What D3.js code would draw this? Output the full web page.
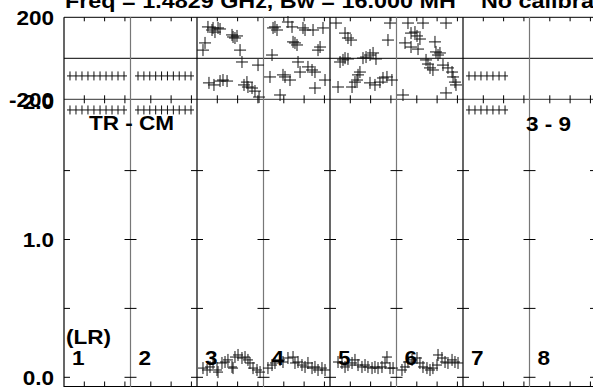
<!DOCTYPE html>
<html><head><meta charset="utf-8">
<script src="https://cdn.jsdelivr.net/npm/d3@7"></script>
<style>
html,body{margin:0;padding:0;background:#fff;}
svg{display:block;}
text{font-family:"Liberation Sans",Arial,Helvetica,sans-serif;font-weight:bold;fill:#000;}
</style></head>
<body>
<script>
// ---------- data ----------
const titleLeft = "Freq = 1.4829 GHz, Bw = 16.000 MH";
const titleRight = "No calibra";
const panelLabels = ["1","2","3","4","5","6","7","8"];
const phaseTickLabels = [200, -200];
const ampTickLabels = [2.0, 1.0, 0.0];
const ampMinorTicks = [0, 0.5, 1.0, 1.5];
const timeTicks = [20, 40, 60];

// phase [time(min), degrees] per panel
const phase3 = [[5.9,40],[7.9,75],[10.8,153],[11.8,-120],[14.8,138],[15.8,148],[16.7,-130],[17.7,128],[20.7,148],[22.7,143],[22.7,-111],[25.6,-106],[29.6,-111],[34.5,114],[35.5,104],[37.4,99],[39.4,109],[42.4,40],[44.3,-18],[46.3,-130],[49.2,-116],[50.2,-140],[54.2,-145],[57.1,-160],[60.1,-33],[61.1,-189]];
const phase4 = [[6.4,-91],[8.4,16],[9.4,148],[11.3,153],[13.3,138],[16.3,-179],[19.2,-81],[21.2,-91],[24.1,177],[26.1,-106],[28.1,153],[29.1,80],[31.0,75],[33.0,65],[34.0,-18],[36.0,-67],[38.9,148],[40.9,138],[43.8,-42],[47.8,-57],[48.8,138],[50.7,-67],[50.7,-145],[53.7,40],[55.7,55],[58.6,148],[60.6,-106]];
const phase5 = [[5.9,172],[7.9,-140],[9.9,-18],[12.8,-8],[14.8,123],[14.8,1],[17.7,99],[17.7,-3],[20.7,89],[21.7,-140],[24.6,-116],[26.6,-106],[27.6,-81],[29.5,-67],[32.5,1],[35.5,6],[39.4,16],[39.4,-120],[42.4,26],[44.3,-130],[45.3,-3],[49.2,-116],[52.2,-96],[56.1,-91],[57.1,89],[59.1,172],[61.0,-106]];
const phase6 = [[6.4,-179],[8.4,75],[11.3,172],[14.3,123],[14.3,55],[18.2,128],[20.2,109],[21.2,45],[23.1,94],[26.1,172],[29.1,-8],[31.0,-28],[33.0,-47],[35.9,-57],[37.9,80],[38.9,31],[40.9,16],[42.8,26],[45.8,-33],[48.8,-169],[48.8,172],[50.7,-47],[54.7,-67],[55.7,-91],[57.6,-116],[58.6,-130]];

// amplitude [time(min), amp] per panel
const amp3 = [[5.9,0.067],[9.9,0.053],[12.8,0.075],[15.8,0.104],[19.7,0.053],[20.7,0.038],[24.6,0.104],[27.6,0.111],[30.5,0.126],[34.5,0.075],[35.5,0.067],[37.4,0.147],[40.4,0.162],[44.3,0.140],[47.3,0.147],[50.2,0.126],[52.2,0.104],[55.2,0.067],[59.1,0.053],[62.1,0.038]];
const amp4 = [[4.4,0.067],[8.4,0.089],[11.3,0.104],[16.3,0.126],[19.2,0.111],[24.1,0.140],[29.1,0.147],[31.0,0.104],[34.0,0.111],[37.9,0.089],[40.9,0.075],[43.8,0.104],[47.8,0.067],[50.7,0.075],[53.7,0.053],[57.6,0.067],[60.6,0.053]];
const amp5 = [[7.9,0.111],[11.8,0.104],[14.8,0.075],[17.7,0.089],[21.7,0.104],[24.6,0.126],[27.6,0.089],[31.5,0.075],[34.5,0.089],[37.4,0.075],[41.4,0.067],[44.3,0.075],[47.3,0.067],[51.2,0.075],[54.2,0.104],[56.1,0.147],[59.1,0.067],[62.1,0.067]];
const amp6 = [[5.4,0.053],[8.4,0.075],[11.3,0.111],[15.3,0.126],[20.2,0.140],[23.1,0.104],[26.1,0.075],[30.0,0.067],[33.0,0.053],[35.9,0.067],[39.9,0.089],[40.9,0.162],[44.8,0.140],[47.8,0.111],[50.7,0.104],[54.7,0.126],[57.6,0.111],[60.6,0.104]];

// flagged (constant) samples in panels 1, 2, 7
const flagTimes1 = [5.9,11.8,17.7,23.6,29.5,35.5,41.4,47.3,53.2,59.1];
const flagTimes2 = [7.4,13.2,19.0,24.8,30.6,36.4,42.2,48.0,53.8,59.6];
const flagTimes7 = [5.9,11.8,17.7,23.6,29.5,35.5,41.4];
const flagPhase = -86;
const flagAmp = 1.94;

// ---------- layout ----------
const W = 593, H = 387;
const svg = d3.select("body").append("svg").attr("width", W).attr("height", H);

const nPanels = 8;
const panelX = d3.scaleLinear().domain([0, nPanels]).range([64, 596]);
const pw = panelX(1) - panelX(0);
const tX = d3.scaleLinear().domain([0, 65.5]).range([0, pw]);
const phY = d3.scaleLinear().domain([-200, 200]).range([99.3, 17.3]);
const amY = d3.scaleLinear().domain([0, 1]).range([377.3, 239.5]);
const ampBottom = 386.5;

const g = svg.append("g");

// horizontal frame lines
[200, 0, -200].forEach(v => {
  g.append("line").attr("x1", panelX(0)).attr("x2", panelX(nPanels))
    .attr("y1", phY(v)).attr("y2", phY(v))
    .attr("stroke", v === -200 ? "#333" : "#000").attr("stroke-width", 1);
});
g.append("line").attr("x1", panelX(0)).attr("x2", panelX(nPanels))
  .attr("y1", ampBottom).attr("y2", ampBottom).attr("stroke", "#000");

// vertical panel lines
d3.range(nPanels + 1).forEach(i => {
  g.append("line").attr("x1", panelX(i)).attr("x2", panelX(i))
    .attr("y1", phY(200)).attr("y2", H)
    .attr("stroke", i % 2 === 0 ? "#000" : "#777").attr("stroke-width", 1.2);
});

// time ticks
d3.range(nPanels).forEach(i => {
  timeTicks.forEach(t => {
    const x = panelX(i) + tX(t);
    g.append("line").attr("x1", x).attr("x2", x).attr("y1", phY(200)).attr("y2", phY(200) + 4).attr("stroke", "#000");
    g.append("line").attr("x1", x).attr("x2", x).attr("y1", phY(-200) - 4).attr("y2", phY(-200) + 4).attr("stroke", "#000");
    g.append("line").attr("x1", x).attr("x2", x).attr("y1", ampBottom - 5).attr("y2", ampBottom).attr("stroke", "#000");
  });
});

// amplitude ticks on panel lines
d3.range(nPanels + 1).forEach(i => {
  ampMinorTicks.forEach(a => {
    const x = panelX(i);
    g.append("line").attr("x1", i === 0 ? x : x - 6).attr("x2", x + 6)
      .attr("y1", amY(a)).attr("y2", amY(a)).attr("stroke", "#000");
  });
});

// crosses
function cross(sel, x, y, hw, hh) {
  sel.append("path").attr("d", `M${x - hw},${y}H${x + hw}M${x},${y - hh}V${y + hh}`)
    .attr("stroke", "#111").attr("stroke-width", 1).attr("fill", "none");
}
const marks = svg.append("g");
const phaseSets = {2: phase3, 3: phase4, 4: phase5, 5: phase6};
const ampSets = {2: amp3, 3: amp4, 4: amp5, 5: amp6};
Object.keys(phaseSets).forEach(k => {
  phaseSets[k].forEach(([t, v]) => cross(marks, panelX(+k) + tX(t), phY(v), 6, 6));
});
Object.keys(ampSets).forEach(k => {
  ampSets[k].forEach(([t, v]) => cross(marks, panelX(+k) + tX(t), amY(v), 5, 6));
});
[[0, flagTimes1], [1, flagTimes2], [6, flagTimes7]].forEach(([p, ts]) => {
  ts.forEach(t => {
    cross(marks, panelX(p) + tX(t), phY(flagPhase), 3, 4.5);
    cross(marks, panelX(p) + tX(t), amY(flagAmp), 3, 4.5);
  });
});

// ---------- text ----------
const fs = 20.5, sx = 1.1;
function label(x, y, str, anchor, scaleX) {
  svg.append("text").attr("transform", `translate(${x},${y}) scale(${scaleX || sx},1)`)
    .attr("text-anchor", anchor || "start").attr("font-size", fs).text(str);
}
label(65, 8, titleLeft, "start", 1.14);
label(481, 8, titleRight, "start", 1.14);

phaseTickLabels.forEach(v => label(54, phY(v) + 7.5, String(v), "end"));
ampTickLabels.forEach(v => label(54, amY(v) + 7.5, v.toFixed(1), "end"));

panelLabels.forEach((lab, i) => label(panelX(i) + 8, 365, lab));
label(66, 344, "(LR)");
label(89, 130, "TR - CM");
label(526, 131, "3 - 9");
</script>
</body></html>
